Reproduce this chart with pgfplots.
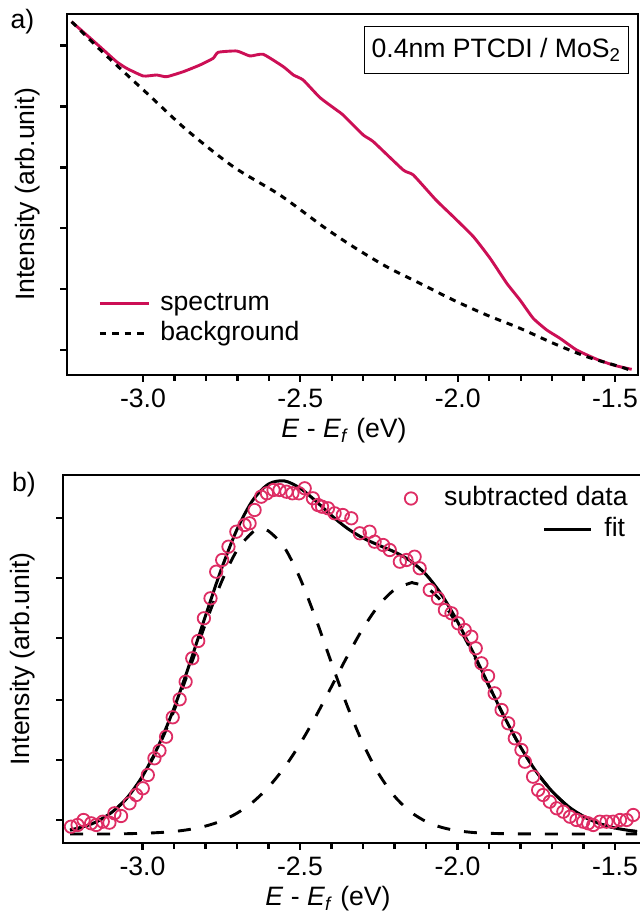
\documentclass[border=0pt]{standalone}
\usepackage{pgfplots}
\pgfplotsset{compat=1.18}
\usepackage{fontspec}
\setmainfont{Liberation Sans}
\definecolor{specred}{RGB}{204,15,85}
\definecolor{datared}{RGB}{222,45,100}
\pgfplotsset{
  circleleg/.style={legend image code/.code={\draw[##1] plot coordinates {(0pt,0pt)};}},
  lineleg/.style={legend image code/.code={\draw[##1] (0pt,0pt) -- (#1,0pt);}},
}
\begin{document}
\fontsize{13.3}{16}\selectfont
\begin{tikzpicture}
\pgfplotsset{
  panel/.style={
    scale only axis, anchor=south west,
    tick align=outside, xtick pos=left, ytick pos=left,
    major tick length=3.3pt, minor tick length=3pt,
    axis line style={line width=1.35pt},
    every tick/.append style={black, line width=1.1pt},
    xtick={-3,-2.5,-2,-1.5}, xticklabels={-3.0,-2.5,-2.0,-1.5},
    minor x tick num=4,
    yticklabels={},
    xticklabel style={yshift=1pt},
    xlabel={\textit{E} - \textit{E}\textsubscript{\textit{f}} (eV)},
    ylabel={Intensity (arb.unit)},
  },
  leg/.style={legend style={draw=none, fill=none, inner sep=0pt, row sep=2.75pt,
      nodes={inner sep=0pt, text height=9.7pt, text depth=2.8pt},
      /tikz/every odd column/.append style={column sep=#1}}},
}
% ---------------- panel a ----------------
\begin{axis}[panel, at={(33.5pt,271pt)}, width=285.5pt, height=180.5pt,
  xmin=-3.2415, xmax=-1.427, ymin=0, ymax=361,
  ytick={25,86,147,207.5,268.5,329.5},
  xlabel style={at={(axis description cs:0.4851,-0.1551)}, anchor=center},
  ylabel style={at={(axis description cs:-0.0692,0.5)}, anchor=center},
  leg=5pt,
  legend style={at={(axis description cs:0.0543,0.2338)}, anchor=north west},
  legend cell align=left,
  lineleg=24.5pt,
]
\addplot[specred, line width=1.45pt, smooth, tension=0.3] coordinates {
(-3.227,353.3) (-3.137,328.3) (-3.084,313.3) (-3.052,306.7) (-2.999,299.0)
(-2.957,300.0) (-2.925,298.3) (-2.872,303.3) (-2.819,310.0) (-2.777,316.7)
(-2.761,322.7) (-2.702,324.0) (-2.660,319.0) (-2.618,320.7) (-2.554,308.3)
(-2.522,300.0) (-2.491,295.0) (-2.438,277.5) (-2.385,265.0) (-2.364,260.0)
(-2.300,240.0) (-2.268,233.3) (-2.173,205.0) (-2.141,200.0) (-2.069,175.0)
(-2.014,158.3) (-1.950,138.3) (-1.897,116.7) (-1.844,91.7) (-1.802,75.0)
(-1.760,56.7) (-1.717,45.0) (-1.675,36.7) (-1.622,25.0) (-1.558,15.7)
(-1.506,10.0) (-1.463,6.7) (-1.447,5.7)};
\addlegendentry{spectrum}
\addplot[black, line width=1.5pt, dash pattern=on 3.2pt off 3pt, smooth] coordinates {
(-3.227,353.3) (-3.137,325.5) (-3.052,300.5) (-2.978,279.0) (-2.861,245.0)
(-2.713,208.3) (-2.565,180.0) (-2.427,148.3) (-2.332,128.3) (-2.226,108.3)
(-2.120,91.7) (-2.014,75.0) (-1.908,60.0) (-1.802,46.7) (-1.696,31.7)
(-1.590,18.3) (-1.484,8.3) (-1.447,4.3)};
\addlegendentry{background}
\node[draw, line width=0.7pt, anchor=north east, minimum width=132pt,
  minimum height=23.5pt, inner sep=0pt] at (axis description cs:0.9842,0.9668)
  {0.4nm PTCDI / MoS\textsubscript{2}};
\end{axis}
% ---------------- panel b ----------------
\begin{axis}[panel, at={(31.5pt,37pt)}, width=298.5pt, height=184pt,
  xmin=-3.2523, xmax=-1.3571, ymin=0, ymax=368,
  ytick={23,83,143,204.7,264.7,324.7},
  xlabel style={at={(axis description cs:0.4439,-0.1522)}, anchor=center},
  ylabel style={at={(axis description cs:-0.0670,0.5)}, anchor=center},
  leg=13.5pt,
  legend style={at={(axis description cs:0.9464,0.9712)}, anchor=north east},
]
\addplot[datared, only marks, mark=o, mark size=3.1pt, mark options={line width=0.9pt},
  circleleg] coordinates {
(-3.227,16.3) (-3.206,18.0) (-3.187,23.0) (-3.163,19.7) (-3.147,18.0)
(-3.126,21.3) (-3.105,20.3) (-3.089,29.7) (-3.068,27.0) (-3.041,39.7)
(-3.020,48.0) (-2.999,54.7) (-2.983,68.0) (-2.962,84.7) (-2.946,92.3)
(-2.925,106.3) (-2.904,125.7) (-2.882,143.7) (-2.863,161.3) (-2.842,184.7)
(-2.823,202.0) (-2.805,224.7) (-2.784,244.7) (-2.766,271.3) (-2.747,283.0)
(-2.727,296.3) (-2.702,311.3) (-2.676,318.0) (-2.660,319.7) (-2.644,333.0)
(-2.623,346.3) (-2.605,349.7) (-2.584,353.0) (-2.565,353.0) (-2.543,351.3)
(-2.524,349.7) (-2.503,349.7) (-2.485,354.7) (-2.459,344.7) (-2.443,338.0)
(-2.430,336.3) (-2.411,334.7) (-2.390,329.7) (-2.364,328.0) (-2.337,324.7)
(-2.310,309.7) (-2.279,311.3) (-2.263,301.3) (-2.236,298.0) (-2.215,293.0)
(-2.183,281.3) (-2.162,283.0) (-2.136,286.3) (-2.120,274.7) (-2.088,253.0)
(-2.062,244.7) (-2.040,233.0) (-2.019,229.7) (-1.998,219.7) (-1.977,213.0)
(-1.956,206.3) (-1.942,194.7) (-1.924,179.7) (-1.903,167.0) (-1.882,149.7)
(-1.860,133.0) (-1.839,119.7) (-1.818,104.7) (-1.797,93.0) (-1.786,81.3)
(-1.760,66.3) (-1.744,53.0) (-1.728,48.0) (-1.707,41.3) (-1.685,34.7)
(-1.664,31.3) (-1.643,26.3) (-1.622,23.0) (-1.601,21.3) (-1.585,19.7)
(-1.569,18.0) (-1.548,21.3) (-1.527,21.3) (-1.506,21.3) (-1.484,23.0)
(-1.463,23.0) (-1.442,28.0)};
\addlegendentry{subtracted data}
% first component
\addplot[black, line width=1.45pt, dash pattern=on 6.5pt off 7pt, smooth, forget plot] coordinates {
(-3.23,13.0) (-3.20,15.1) (-3.15,20.6) (-3.10,30.0) (-3.05,44.6) (-3.00,66.1)
(-2.95,95.4) (-2.90,132.2) (-2.85,174.8) (-2.80,219.2) (-2.75,260.5) (-2.70,292.7)
(-2.65,310.9) (-2.625,313.7) (-2.60,312.0) (-2.55,295.8) (-2.50,264.9) (-2.45,224.5)
(-2.40,180.1) (-2.35,137.1) (-2.30,99.4) (-2.25,69.2) (-2.20,46.8) (-2.15,31.4)
(-2.10,21.5) (-2.05,15.6) (-2.00,12.3) (-1.95,10.5) (-1.90,9.7) (-1.85,9.3)
(-1.80,9.1) (-1.70,9.0) (-1.60,9.0) (-1.50,9.0) (-1.43,9.0)};
% second component
\addplot[black, line width=1.45pt, dash pattern=on 6.5pt off 7pt, smooth, forget plot] coordinates {
(-3.23,9.0) (-3.10,9.0) (-3.00,9.7) (-2.95,10.4) (-2.90,11.5) (-2.85,13.6)
(-2.80,16.9) (-2.75,22.0) (-2.70,29.8) (-2.65,40.8) (-2.60,55.9) (-2.55,75.3)
(-2.50,99.0) (-2.45,126.5) (-2.40,156.4) (-2.35,186.6) (-2.30,214.6) (-2.25,237.6)
(-2.20,253.3) (-2.15,259.9) (-2.14,260.0) (-2.10,256.0) (-2.05,241.5) (-2.00,218.1)
(-1.95,188.8) (-1.90,156.7) (-1.85,125.0) (-1.80,96.0) (-1.75,71.4) (-1.70,51.8)
(-1.65,37.0) (-1.60,26.6) (-1.55,19.5) (-1.50,15.0) (-1.45,12.3) (-1.43,11.5)};
% fit
\addplot[black, line width=1.5pt, smooth, forget plot] coordinates {
(-3.23,13.0) (-3.20,15.1) (-3.15,20.6) (-3.10,30.1) (-3.05,44.8) (-3.00,66.8)
(-2.95,96.8) (-2.90,134.7) (-2.85,179.4) (-2.80,227.1) (-2.75,273.5) (-2.70,313.5)
(-2.65,342.7) (-2.60,358.9) (-2.55,362.1) (-2.50,354.9) (-2.45,342.0) (-2.40,327.5)
(-2.35,314.7) (-2.30,305.0) (-2.25,297.8) (-2.20,291.1) (-2.15,282.3) (-2.10,268.5)
(-2.05,248.1) (-2.00,221.4) (-1.95,190.3) (-1.90,157.4) (-1.85,125.3) (-1.80,96.1)
(-1.75,71.4) (-1.70,51.8) (-1.65,37.0) (-1.60,26.6) (-1.55,19.5) (-1.50,15.0)
(-1.45,12.3) (-1.43,11.5)};
\end{axis}
% overlay axis carrying the second legend entry of panel b
\begin{axis}[at={(31.5pt,37pt)}, anchor=south west, scale only axis,
  width=298.5pt, height=184pt, hide axis, xmin=0, xmax=1, ymin=0, ymax=1,
  leg=5.8pt,
  legend style={at={(axis description cs:0.9422,0.8870)}, anchor=north east},
  lineleg=23.5pt,
]
\addlegendimage{black, line width=1.5pt}
\addlegendentry{fit}
\end{axis}
\node at (11.25pt,447.5pt) {a)};
\node at (12pt,216pt) {b)};
\pgfresetboundingbox
\path[use as bounding box] (0,0) rectangle (320pt,458.5pt);
\end{tikzpicture}
\end{document}
